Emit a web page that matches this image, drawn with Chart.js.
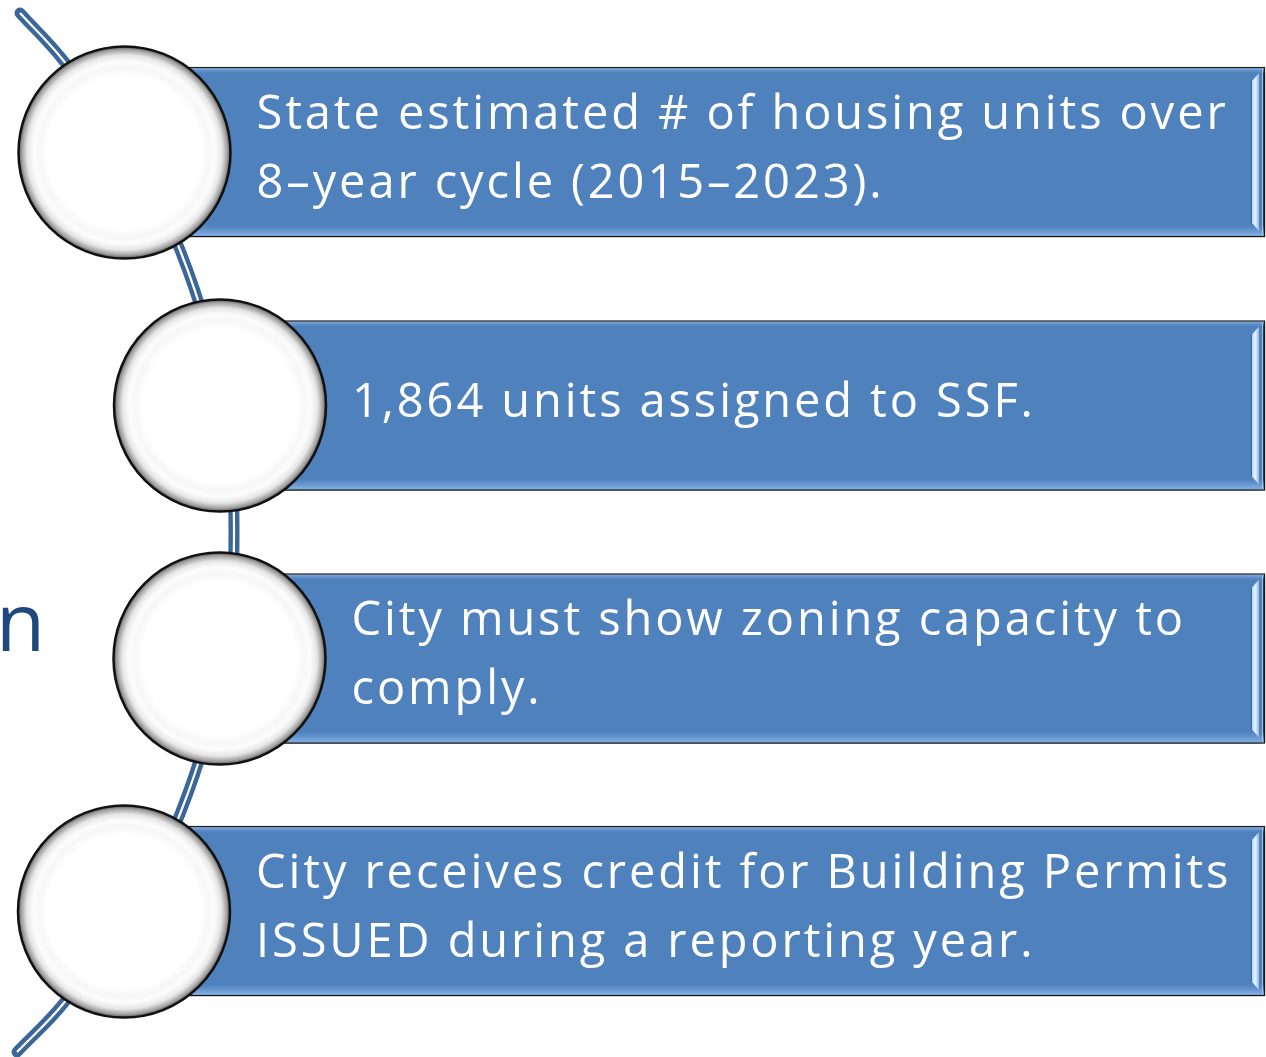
<!DOCTYPE html>
<html><head><meta charset="utf-8">
<script src="https://cdn.jsdelivr.net/npm/chart.js@4.4.1/dist/chart.umd.min.js"></script>
<style>html,body{margin:0;padding:0;background:#fff;overflow:hidden}canvas{display:block}</style>
</head><body>
<canvas id="c" width="1266" height="1057"></canvas>
<script>
// ---- content ----
const stepLabels = [
  ["State estimated # of housing units over", "8–year cycle (2015–2023)."],
  ["1,864 units assigned to SSF."],
  ["City must show zoning capacity to", "comply."],
  ["City receives credit for Building Permits", "ISSUED during a reporting year."]
];
const sideText = "n";
// step boxes (horizontal floating bars): centre on y, start/end on x
const boxCenters = [152, 405.5, 658.5, 911];
const boxStarts = [125, 220, 220, 125];
const boxEnds = [1265, 1265, 1265, 1265];
// step circles
const circleX = [124.5, 220, 219.5, 124];
const circleY = [152.5, 405.5, 658.5, 911.5];
// connecting arc
const curveX = [20, 63, 118, 180, 222, 234, 222, 180, 118, 63, 17];
const curveY = [13, 60, 135, 250, 400, 532, 664, 814, 929, 1004, 1052];

const FONT = '"Open Sans", "DejaVu Sans", sans-serif';
const curveData = curveX.map((x, i) => ({x, y: curveY[i]}));

function circleFill(c) {
  if (c.type !== 'data' || !c.raw || !c.chart.scales || !c.chart.scales.x) return '#ffffff';
  const ch = c.chart, px = ch.scales.x.getPixelForValue(c.raw.x), py = ch.scales.y.getPixelForValue(c.raw.y);
  if (!isFinite(px) || !isFinite(py)) return '#ffffff';
  const g = ch.ctx.createRadialGradient(px, py, 0, px, py, 106);
  g.addColorStop(0, '#ffffff');
  g.addColorStop(0.72, '#ffffff');
  g.addColorStop(0.8, '#f7f7f7');
  g.addColorStop(0.86, '#fcfcfc');
  g.addColorStop(0.92, '#e6e6e6');
  g.addColorStop(0.97, '#a0a0a0');
  g.addColorStop(1, '#555555');
  return g;
}

const boxDecor = {
  id: 'boxDecor',
  beforeDatasetDraw(chart, args) {
    if (args.meta.type !== 'bar') return;
    const ctx = chart.ctx;
    ctx.save();
    ctx.shadowColor = 'rgba(0,0,0,0.55)';
    ctx.shadowBlur = 9;
    ctx.shadowOffsetY = 6;
  },
  afterDatasetDraw(chart, args) {
    if (args.meta.type !== 'bar') return;
    const ctx = chart.ctx;
    ctx.restore();
    ctx.save();
    args.meta.data.forEach(el => {
      const {x, y, base, height} = el.getProps(['x', 'y', 'base', 'height'], true);
      const top = y - height / 2, bot = y + height / 2;
      let g = ctx.createLinearGradient(0, bot - 12, 0, bot - 1);
      g.addColorStop(0, 'rgba(120,165,220,0)');
      g.addColorStop(1, 'rgba(140,185,235,0.9)');
      ctx.fillStyle = g;
      ctx.fillRect(base + 1, bot - 12, x - base - 2, 11);
      g = ctx.createLinearGradient(0, top + 1, 0, top + 6);
      g.addColorStop(0, 'rgba(140,180,225,0.9)');
      g.addColorStop(1, 'rgba(120,165,220,0)');
      ctx.fillStyle = g;
      ctx.fillRect(base + 1, top + 1, x - base - 2, 5);
      const sx = x - 13, ex = x - 6;
      g = ctx.createLinearGradient(sx, 0, ex, 0);
      g.addColorStop(0, '#b9dbff');
      g.addColorStop(0.5, '#e3f2ff');
      g.addColorStop(1, '#8fb6e3');
      ctx.fillStyle = g;
      ctx.beginPath();
      ctx.moveTo(ex, top + 6);
      ctx.lineTo(ex, bot - 6);
      ctx.lineTo(sx, bot - 14);
      ctx.lineTo(sx, top + 14);
      ctx.closePath();
      ctx.fill();
      ctx.strokeStyle = 'rgba(40,80,130,0.6)';
      ctx.lineWidth = 1;
      ctx.beginPath();
      ctx.moveTo(sx - 0.5, top + 14);
      ctx.lineTo(sx - 0.5, bot - 14);
      ctx.stroke();
      ctx.strokeStyle = 'rgba(160,200,240,0.9)';
      ctx.beginPath();
      ctx.moveTo(x - 2.5, top + 2);
      ctx.lineTo(x - 2.5, bot - 2);
      ctx.stroke();
    });
    ctx.restore();
  }
};

const textPlugin = {
  id: 'stepText',
  afterDatasetsDraw(chart) {
    const ctx = chart.ctx;
    const metas = chart.getSortedVisibleDatasetMetas();
    const barMeta = metas.find(m => m.type === 'bar');
    const circMeta = metas.find(m => m.type === 'scatter');
    ctx.save();
    ctx.fillStyle = '#ffffff';
    ctx.font = '47px ' + FONT;
    try { ctx.letterSpacing = '2.9px'; } catch (e) {}
    ctx.textBaseline = 'alphabetic';
    ctx.textAlign = 'left';
    barMeta.data.forEach((el, i) => {
      const lines = stepLabels[i];
      const tx = circMeta.data[i].x + 132;
      const first = el.y - (lines.length - 1) * 34.5 + 11;
      lines.forEach((ln, j) => ctx.fillText(ln, tx, first + j * 69));
    });
    try { ctx.letterSpacing = '0px'; } catch (e) {}
    ctx.fillStyle = '#1F497D';
    ctx.font = '80px ' + FONT;
    ctx.fillText(sideText, -4, 651);
    ctx.restore();
  }
};

const chart = new Chart(document.getElementById('c'), {
  type: 'scatter',
  data: {
    datasets: [
      {type: 'scatter', label: 'circles', data: circleX.map((x, i) => ({x, y: circleY[i]})),
       pointRadius: 106, pointHoverRadius: 106, borderWidth: 2.5, borderColor: '#111111',
       backgroundColor: circleFill, order: 0},
      {type: 'bar', label: 'steps', indexAxis: 'y',
       data: boxCenters.map((y, i) => ({y, x: [boxStarts[i], boxEnds[i]]})),
       barThickness: 170, backgroundColor: '#4F81BD', borderColor: '#1c1c1c', borderWidth: 2,
       borderSkipped: false, order: 1},
      {type: 'line', label: 'arc-inner', data: curveData, borderColor: '#ffffff', borderWidth: 2.2,
       tension: 0.4, pointRadius: 0, fill: false, order: 2},
      {type: 'line', label: 'arc', data: curveData, borderColor: '#3A6699', borderWidth: 11,
       borderCapStyle: 'round', tension: 0.4, pointRadius: 0, fill: false, order: 3}
    ]
  },
  options: {
    responsive: false, animation: false, devicePixelRatio: 1, events: [],
    layout: {padding: 0, autoPadding: false},
    plugins: {legend: {display: false}, tooltip: {enabled: false}},
    scales: {
      x: {type: 'linear', min: 0, max: 1266, offset: false, grace: 0, display: false},
      y: {type: 'linear', min: 0, max: 1057, reverse: true, offset: false, grace: 0, display: false}
    }
  },
  plugins: [boxDecor, textPlugin]
});
chart.update();
</script>
</body></html>
